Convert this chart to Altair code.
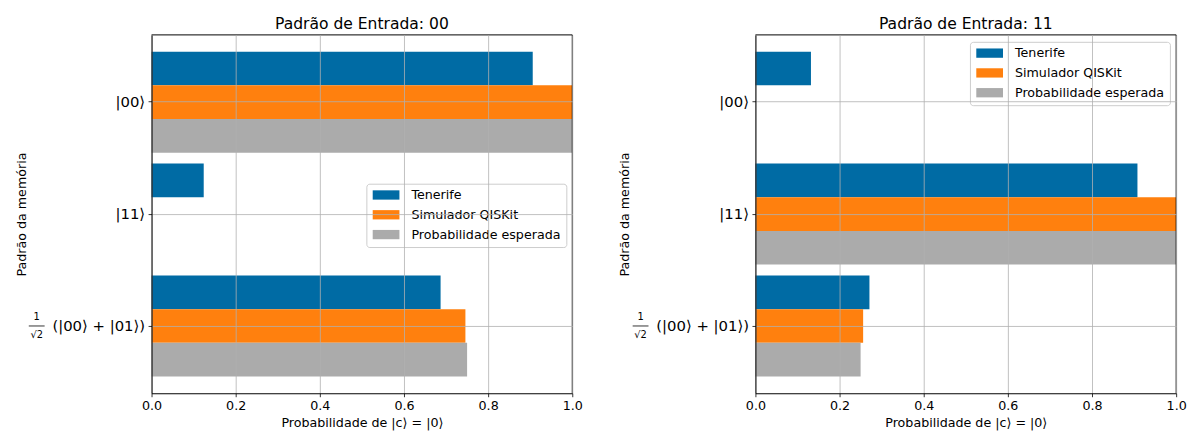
import json
import altair as alt
import pandas as pd

# ---------------- data ----------------
categories = ["|00⟩", "|11⟩", "1/√2(|00⟩ + |01⟩)"]
tick_labels = ["|00⟩", "|11⟩", "(|00⟩ + |01⟩)"]
frac_num = ["1"]
frac_den = ["√2"]
series = ["Tenerife", "Simulador QISKit", "Probabilidade esperada"]
colors = ["#006BA4", "#FF800E", "#ABABAB"]

tenerife_00 = [0.906, 0.124, 0.687]
simulador_00 = [1.0, 0.0, 0.746]
esperada_00 = [1.0, 0.0, 0.75]

tenerife_11 = [0.132, 0.908, 0.271]
simulador_11 = [0.0, 1.0, 0.256]
esperada_11 = [0.0, 1.0, 0.25]

x_ticks = [0.0, 0.2, 0.4, 0.6, 0.8, 1.0]
titles = ["Padrão de Entrada: 00", "Padrão de Entrada: 11"]
x_title = "Probabilidade de |c⟩ = |0⟩"
y_title = "Padrão da memória"

FONT = "DejaVu Sans"
W, H = 425, 362


def make_df(vals):
    rows = []
    for s, v in zip(series, vals):
        for c, x in zip(categories, v):
            rows.append({"cat": c, "serie": s, "valor": x})
    return pd.DataFrame(rows)


label_expr = f"{json.dumps(tick_labels, ensure_ascii=False)}[indexof({json.dumps(categories, ensure_ascii=False)}, datum.value)]"

y_axis = alt.Axis(
    title=y_title, labelExpr=label_expr, grid=True, bandPosition=0.5,
    gridColor="#b0b0b0", gridWidth=0.8, domainColor="black", domainWidth=1,
    tickColor="black", tickSize=3.5, tickWidth=0.8, labelFontSize=15,
    labelFont=FONT, labelColor="black", titleFont=FONT, titleFontSize=12.8,
    titleFontWeight="normal", titleColor="black", labelPadding=3.5,
    titlePadding=24, zindex=1,
)
x_axis = alt.Axis(
    values=x_ticks, format=".1f", title=x_title, grid=True,
    gridColor="#b0b0b0", gridWidth=0.8, domainColor="black", domainWidth=1,
    tickColor="black", tickSize=3.5, tickWidth=0.8, labelFontSize=12.8,
    labelFont=FONT, labelColor="black", titleFont=FONT, titleFontSize=12.8,
    titleFontWeight="normal", titleColor="black", labelPadding=3,
    titlePadding=4, labelFlush=False, zindex=1,
)


def panel(vals, title, leg_x, leg_y):
    df = make_df(vals)
    y_scale = alt.Scale(domain=categories, paddingInner=0.0973, paddingOuter=0.15)
    x_scale = alt.Scale(domain=[0, 1], nice=False, zero=True)
    bars = alt.Chart(df).mark_bar(strokeWidth=0).encode(
        x=alt.X("valor:Q", scale=x_scale, axis=x_axis),
        y=alt.Y("cat:N", scale=y_scale, sort=categories, axis=y_axis),
        yOffset=alt.YOffset(
            "serie:N", sort=series,
            scale=alt.Scale(domain=series, paddingInner=0, paddingOuter=0),
        ),
        color=alt.Color(
            "serie:N",
            sort=series,
            scale=alt.Scale(domain=series, range=colors),
            legend=alt.Legend(
                title=None, orient="none", legendX=leg_x, legendY=leg_y,
                symbolType="M-1,-0.94H4.4V0.94H-1Z", symbolSize=100,
                symbolStrokeWidth=0, symbolOpacity=1, labelOffset=27.7,
                rowPadding=6, padding=5, strokeColor="#cccccc",
                fillColor="rgba(255,255,255,0.8)", cornerRadius=3,
                labelFontSize=12.8, labelFont=FONT, labelColor="black",
            ),
        ),
    )

    frac_df = pd.DataFrame({"cat": [categories[2]], "num": frac_num, "den": frac_den})
    ypos = alt.Y("cat:N", bandPosition=0.5, sort=categories, axis=y_axis)
    num = alt.Chart(frac_df).mark_text(
        font=FONT, fontSize=10, color="black", dy=-9, align="center", baseline="middle"
    ).encode(y=ypos, x=alt.value(-116), text="num:N")
    den = alt.Chart(frac_df).mark_text(
        font=FONT, fontSize=10, color="black", dy=9, align="center", baseline="middle"
    ).encode(y=ypos, x=alt.value(-116), text="den:N")
    bar_line = alt.Chart(frac_df).mark_rule(color="black", strokeWidth=0.8).encode(
        y=ypos, x=alt.value(-124), x2=alt.value(-108),
    )
    frame_right = alt.Chart(alt.Data(values=[{}])).mark_rule(
        color="black", strokeWidth=1
    ).encode(x=alt.datum(1.0, axis=x_axis))
    frame_top = alt.Chart(alt.Data(values=[{}])).mark_rule(
        color="black", strokeWidth=1
    ).encode(y=alt.value(0))

    return alt.layer(bars, num, den, bar_line, frame_right, frame_top).properties(
        width=W,
        height=H,
        title=alt.TitleParams(
            title, fontSize=15.7, fontWeight="normal", font=FONT, color="black",
            offset=2, anchor="middle",
        ),
    )


left = panel([tenerife_00, simulador_00, esperada_00], titles[0], 217, 150.3)
right = panel([tenerife_11, simulador_11, esperada_11], titles[1], 216.7, 7)

chart = (
    alt.hconcat(left, right, spacing=36)
    .resolve_legend(color="independent")
    .properties(padding={"left": 7, "top": 5, "right": 5, "bottom": 5}, background="white")
    .configure_view(stroke=None)
)

chart.save("out.html", embed_options={"renderer": "svg", "actions": False})
